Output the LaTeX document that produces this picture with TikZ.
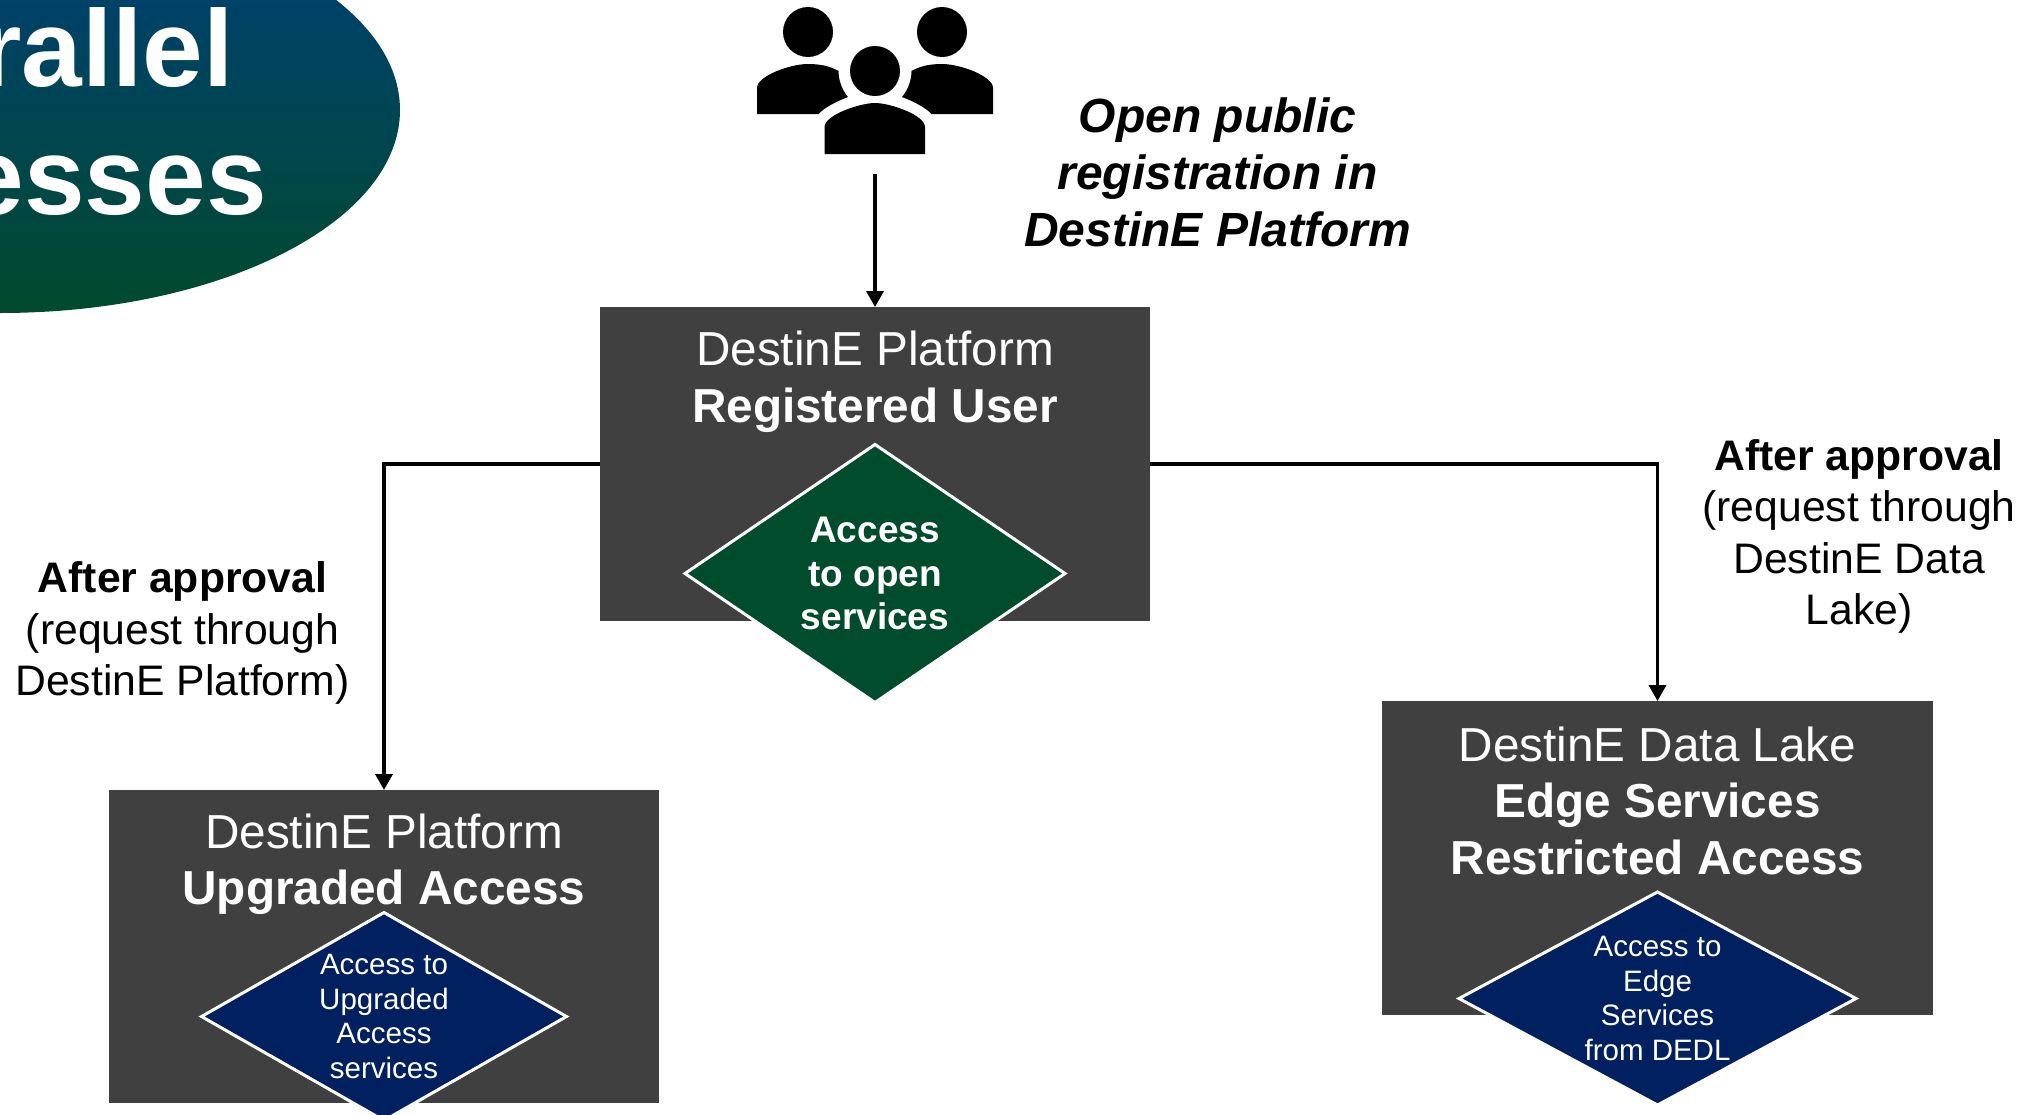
\documentclass[tikz,border=0pt]{standalone}
\usepackage{fontspec}
\setmainfont{Liberation Sans}
\usetikzlibrary{shapes.geometric,arrows.meta}
\definecolor{boxgrey}{HTML}{404040}
\definecolor{dgreen}{HTML}{004C2D}
\definecolor{dnavy}{HTML}{002060}
\definecolor{elltop}{HTML}{003F7A}
\definecolor{ellbot}{HTML}{014A2D}
\tikzset{
  box/.style={rectangle,fill=boxgrey,draw=none,inner sep=0pt,outer sep=0pt},
  titletext/.style={text=white,align=center,inner sep=0pt,anchor=base,font=\fontsize{47.7}{56.5}\selectfont},
  dia/.style={diamond,draw=white,line width=3pt,inner sep=0pt,outer sep=0pt,text=white,align=center},
  diagreen/.style={dia,fill=dgreen,font=\fontsize{37}{43.7}\selectfont\bfseries},
  dianavy/.style={dia,fill=dnavy,font=\fontsize{29.5}{34.6}\selectfont},
  note/.style={text=black,align=center,inner sep=0pt,anchor=base,font=\fontsize{42.7}{51.3}\selectfont},
  quote/.style={text=black,align=center,inner sep=0pt,anchor=base,font=\fontsize{48}{57}\selectfont\bfseries\itshape},
  headline/.style={text=white,inner sep=0pt,anchor=base east,font=\fontsize{109}{128}\selectfont\bfseries},
  conn/.style={draw=black,line width=3.6pt,-{Triangle[length=16pt,width=17pt]}},
  person/.style={fill=black,draw=none}
}
\begin{document}
\begin{tikzpicture}[x=1pt,y=-1pt]
\useasboundingbox (0,0) rectangle (2044,1114);
\clip (0,0) rectangle (2044,1114);
% ellipse
\shade[top color=elltop,bottom color=ellbot] (0,110) ellipse [x radius=400,y radius=203];
\node[headline] (h1) at (234,86) {rallel};
\node[headline] (h2) at (267,214) {esses};
% people
\fill[person] (808,32) circle (25);
\fill[person] (942,32) circle (25);
\fill[person] (875,71) circle (25);
\fill[person] (757,114) -- (757,88) .. controls (757,76) and (790,64) .. (808,64) .. controls (820,64) and (830,66) .. (838.5,71) .. controls (838.5,80) and (842,90) .. (848,97) .. controls (835,102) and (824,108) .. (818.5,114) -- cycle;
\fill[person] (993,114) -- (993,88) .. controls (993,76) and (960,64) .. (942,64) .. controls (930,64) and (920,66) .. (911.5,71) .. controls (911.5,80) and (908,90) .. (902,97) .. controls (915,102) and (926,108) .. (931.5,114) -- cycle;
\fill[person] (824.5,154) -- (824.5,127) .. controls (824.5,115) and (860,103) .. (875,103) .. controls (890,103) and (925,115) .. (925,127) -- (925,154) -- cycle;
\coordinate (people) at (875,174);
% boxes
\node[box,minimum width=550pt,minimum height=313.5pt] (box1) at (875,463.75) {};
\node[box,minimum width=550pt,minimum height=313.3pt] (box2) at (384,946.65) {};
\node[box,minimum width=551pt,minimum height=314pt] (box3) at (1657.5,858) {};
% connectors
\draw[conn] (people) -- (box1.north);
\draw[conn] (box1.west) -| (box2.north);
\draw[conn] (box1.east) -| (box3.north);
% titles
\node[titletext] (t1) at (875,422) {DestinE Platform\\\textbf{Registered User}};
\node[titletext] (t2) at (384,904.5) {DestinE Platform\\\textbf{Upgraded Access}};
\node[titletext] (t3) at (1657.5,874) {DestinE Data Lake\\\textbf{Edge Services}\\\textbf{Restricted Access}};
% diamonds
\node[diagreen,minimum width=380pt,minimum height=258pt,aspect=1.47] (d1) at (875,573.5) {Access\\to open\\services};
\node[dianavy,minimum width=365pt,minimum height=208pt,aspect=1.77] (d2) at (384,1016.5) {Access to\\Upgraded\\Access\\services};
\node[dianavy,minimum width=397pt,minimum height=213pt,aspect=1.87] (d3) at (1657.5,998.5) {Access to\\Edge\\Services\\from DEDL};
% labels
\node[quote] (q) at (1217.5,246) {Open public\\registration in\\DestinE Platform};
\node[note] (n1) at (182.5,695.5) {\textbf{After approval}\\(request through\\DestinE Platform)};
\node[note] (n2) at (1859,624.5) {\textbf{After approval}\\(request through\\DestinE Data\\Lake)};
\end{tikzpicture}
\end{document}
